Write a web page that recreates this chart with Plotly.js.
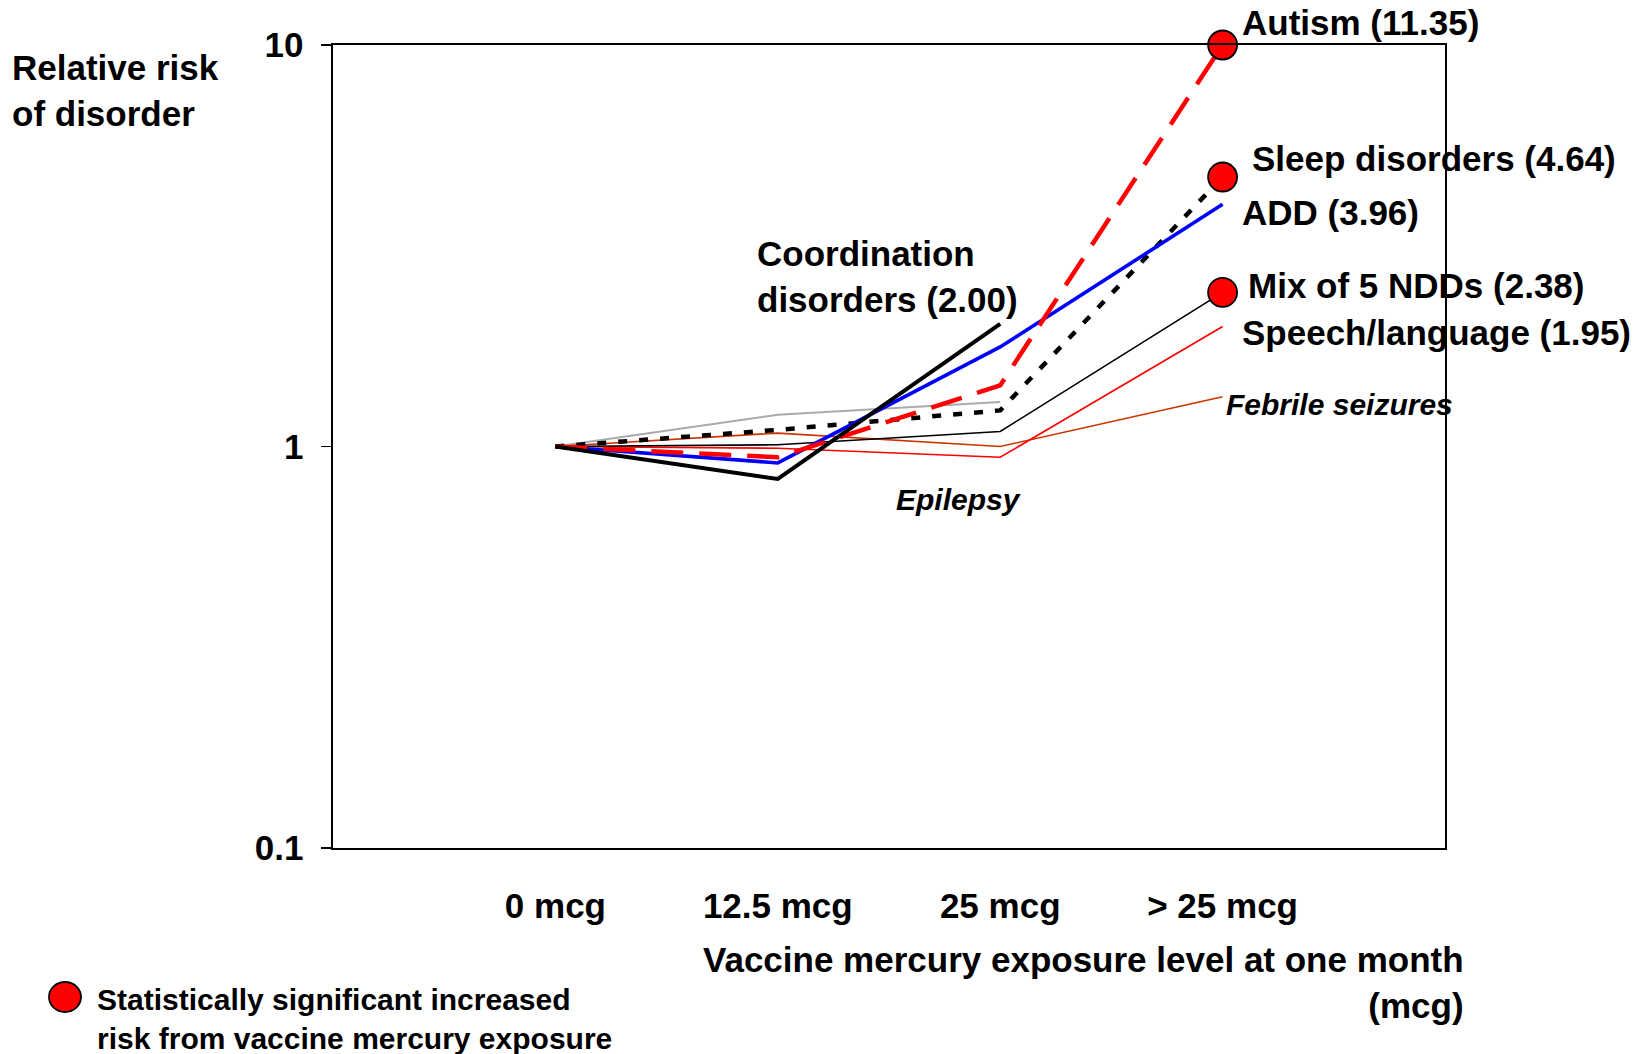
<!DOCTYPE html>
<html>
<head>
<meta charset="utf-8">
<script src="https://cdn.plot.ly/plotly-3.0.1.min.js"></script>
<style>html,body{margin:0;padding:0;background:#fff;}#chart{width:1641px;height:1054px;}</style>
</head>
<body>
<div id="chart"></div>
<script>
// ---- data ----
var categories = ["0 mcg", "12.5 mcg", "25 mcg", "> 25 mcg"];
var autism        = [1, 0.94, 1.42, 10.0];
var sleep         = [1, 1.10, 1.23, 4.69];
var add           = [1, 0.91, 1.77, 4.01];
var mixNdds       = [1, 1.01, 1.09, 2.42];
var speech        = [1, 0.99, 0.94, 1.99];
var febrile       = [1, 1.08, 1.00, 1.33];
var epilepsy      = [1, 1.20, 1.29];
var coordination  = [1, 0.83, 2.02];
var yTickVals = [0.1, 1, 10];
var yTickText = ["0.1", "1", "10"];
var significant = [autism, sleep, mixNdds];

// ---- layout helpers (pixel -> paper) ----
var L = 333, R = 1445, T = 45, B = 848;
function px(x){ return (x - L) / (R - L); }
function py(y){ return (B - y) / (B - T); }
var FONT = "Liberation Sans, Arial, Helvetica, sans-serif";
function bold(size){ return {family: FONT, size: size, color: "#000", weight: 700}; }
function italic(size){ return {family: FONT, size: size, color: "#000", weight: 700, style: "italic"}; }

function line(y, color, width, dash){
  return {x: categories.slice(0, y.length), y: y, type: "scatter", mode: "lines",
          line: {color: color, width: width, dash: dash || "solid"}, hoverinfo: "skip"};
}

var traces = [
  line(epilepsy, "#aaaaaa", 2),
  line(febrile, "#cc3300", 1.6),
  line(speech, "#ff0000", 1.6),
  line(mixNdds, "#000000", 1.6),
  line(sleep, "#000000", 4.5, "9px,12px"),
  line(add, "#0000ff", 3.6),
  line(autism, "#ff0000", 4.5, "32px,16px"),
  line(coordination, "#000000", 4)
];
traces.push({
  x: significant.map(function(s){ return categories[s.length - 1]; }),
  y: significant.map(function(s){ return s[s.length - 1]; }),
  type: "scatter", mode: "markers", cliponaxis: false, hoverinfo: "skip",
  marker: {symbol: "circle", size: 29, color: "#ff0000", line: {color: "#000", width: 1.8}}
});

function ann(text, x, y, font, xanchor, align){
  return {text: text, xref: "paper", yref: "paper", x: px(x), y: py(y),
          xanchor: xanchor || "left", yanchor: "middle", align: align || "left",
          showarrow: false, font: font};
}

var annotations = [
  ann("Autism (11.35)", 1240, 22, bold(35)),
  ann("Sleep disorders (4.64)", 1250, 158, bold(35)),
  ann("ADD (3.96)", 1240, 213, bold(35)),
  ann("Mix of 5 NDDs (2.38)", 1246, 285, bold(35)),
  ann("Speech/language (1.95)", 1240, 332, bold(35)),
  ann("Coordination<br>disorders (2.00)", 755, 276, bold(35)),
  ann("Febrile seizures", 1224, 404, italic(30)),
  ann("Epilepsy", 894, 499, italic(30)),
  ann("Relative risk<br>of disorder", 10, 90, bold(35)),
  ann("Vaccine mercury exposure level at one month<br>(mcg)", 1466, 982, bold(35), "right", "right"),
  ann("Statistically significant increased<br>risk from vaccine mercury exposure", 95, 1019, bold(30))
];

var layout = {
  width: 1641, height: 1054,
  margin: {l: L, r: 1641 - R, t: T, b: 1054 - B, pad: 0},
  paper_bgcolor: "#fff", plot_bgcolor: "#fff",
  showlegend: false,
  xaxis: {
    type: "category", categoryorder: "array", categoryarray: categories,
    range: [-1, 4], showgrid: false, zeroline: false,
    showline: true, mirror: true, linecolor: "#000", linewidth: 1.6,
    ticks: "", tickfont: bold(35), ticklabelstandoff: 26
  },
  xaxis2: {
    overlaying: "x", anchor: "free", position: 0.5, side: "bottom",
    type: "linear", range: [-1, 4],
    tickvals: categories.map(function(c, i){ return i; }),
    showticklabels: false, ticks: "outside", ticklen: 10, tickwidth: 1.6, tickcolor: "#000",
    showline: true, linecolor: "#000", linewidth: 1.6, showgrid: false, zeroline: false
  },
  yaxis: {
    type: "log", range: [-1, 1], tickvals: yTickVals, ticktext: yTickText,
    showgrid: false, zeroline: false, showline: true, mirror: true,
    linecolor: "#000", linewidth: 1.6,
    ticks: "outside", ticklen: 10, tickwidth: 1.6, tickcolor: "#000",
    tickfont: bold(35), ticklabelstandoff: 11
  },
  annotations: annotations,
  shapes: [{
    type: "circle", xref: "paper", yref: "paper",
    xsizemode: "pixel", ysizemode: "pixel",
    xanchor: px(65), yanchor: py(997),
    x0: -16, x1: 16, y0: -15, y1: 15,
    fillcolor: "#ff0000", line: {color: "#000", width: 1.8}
  }]
};

Plotly.newPlot("chart", traces, layout, {staticPlot: true});
</script>
</body>
</html>
